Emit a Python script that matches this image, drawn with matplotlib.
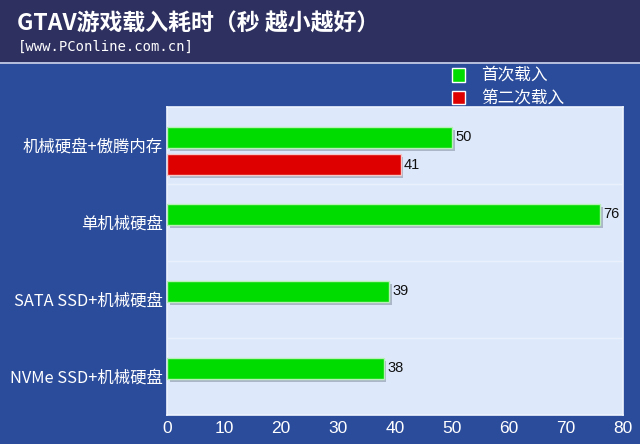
import numpy as np
import matplotlib
matplotlib.use('Agg')
import matplotlib.pyplot as plt
import matplotlib.patheffects as pe
from matplotlib.patches import Rectangle

plt.rcParams['font.family'] = ['Noto Sans CJK SC', 'DejaVu Sans']

# data
categories = ['机械硬盘+傲腾内存', '单机械硬盘', 'SATA SSD+机械硬盘', 'NVMe SSD+机械硬盘']
first_load = [50, 76, 39, 38]
second_load = [41, None, None, None]
series_names = ['首次载入', '第二次载入']
x_ticks = [0, 10, 20, 30, 40, 50, 60, 70, 80]

HEADER = '#2e3060'
BODY = '#2b4c9b'
PLOT_BG = '#dde9fb'
GREEN = '#00dc00'
RED = '#de0000'

fig = plt.figure(figsize=(6.4, 4.44), dpi=100)
fig.patch.set_facecolor(BODY)

# header band + thin separator
fig.patches.append(Rectangle((0, 1 - 62 / 444), 1, 62 / 444, transform=fig.transFigure,
                             facecolor=HEADER, edgecolor='none', zorder=0))
fig.patches.append(Rectangle((0, 1 - 64 / 444), 1, 2 / 444, transform=fig.transFigure,
                             facecolor='#b4bcdc', edgecolor='none', zorder=0))

fig.text(17 / 640, 1 - 24 / 444, 'GTAV游戏载入耗时（秒 越小越好）', color='white',
         fontsize=16.5, fontweight='bold', va='center', ha='left')
fig.text(18 / 640, 1 - 47 / 444, '[www.PConline.com.cn]', color='white',
         fontsize=10, va='center', ha='left', family=['DejaVu Sans Mono'])

# legend drawn by hand
for i, (name, col) in enumerate(zip(series_names, [GREEN, RED])):
    yc = 75 + i * 23
    fig.patches.append(Rectangle((452 / 640, 1 - (yc + 6.5) / 444), 13 / 640, 13 / 444,
                                 transform=fig.transFigure, facecolor=col,
                                 edgecolor='white', linewidth=1, zorder=2))
    fig.text(481 / 640, 1 - yc / 444, name, color='white', fontsize=12,
             va='center', ha='left')

ax = fig.add_axes([167 / 640, 1 - 415 / 444, 456 / 640, 308 / 444])
ax.set_facecolor(PLOT_BG)
for s in ax.spines.values():
    s.set_color('#eef4fe')
    s.set_linewidth(1.2)

y = np.arange(len(categories))
h = 0.27
shadow = [pe.SimplePatchShadow(offset=(2, -2), shadow_rgbFace='#8a94a8', alpha=0.6), pe.Normal()]

g = ax.barh(y - 0.105, first_load, height=h, color=GREEN, edgecolor='#b8f0b8',
            linewidth=1, zorder=3)
for b in g:
    b.set_path_effects(shadow)
for yi, v in zip(y, first_load):
    ax.text(v + 0.6, yi - 0.105, str(v), va='center', ha='left', fontsize=10.5,
            color='#111111', family=['Liberation Sans'], zorder=4)

red_y = [yi + 0.25 for yi, v in zip(y, second_load) if v is not None]
red_v = [v for v in second_load if v is not None]
r = ax.barh(red_y, red_v, height=h, color=RED, edgecolor='#f4c8c8', linewidth=1, zorder=3)
for b in r:
    b.set_path_effects(shadow)
for yi, v in zip(red_y, red_v):
    ax.text(v + 0.6, yi, str(v), va='center', ha='left', fontsize=10.5,
            color='#111111', family=['Liberation Sans'], zorder=4)

# faint category separators
for yb in np.arange(0.5, len(categories) - 0.5, 1):
    ax.axhline(yb, color='#eaf1fd', linewidth=1, zorder=1)

ax.set_xlim(0, 80)
ax.set_ylim(len(categories) - 0.5, -0.5)
ax.set_xticks(x_ticks)
ax.set_xticklabels([str(t) for t in x_ticks], family=['Liberation Sans'])
ax.set_yticks(y)
ax.set_yticklabels(categories)
ax.tick_params(axis='x', length=0, colors='white', labelsize=12.5, pad=4)
ax.tick_params(axis='y', length=0, colors='white', labelsize=11.8, pad=3)

fig.savefig('out.png', dpi=100, facecolor=fig.get_facecolor())
